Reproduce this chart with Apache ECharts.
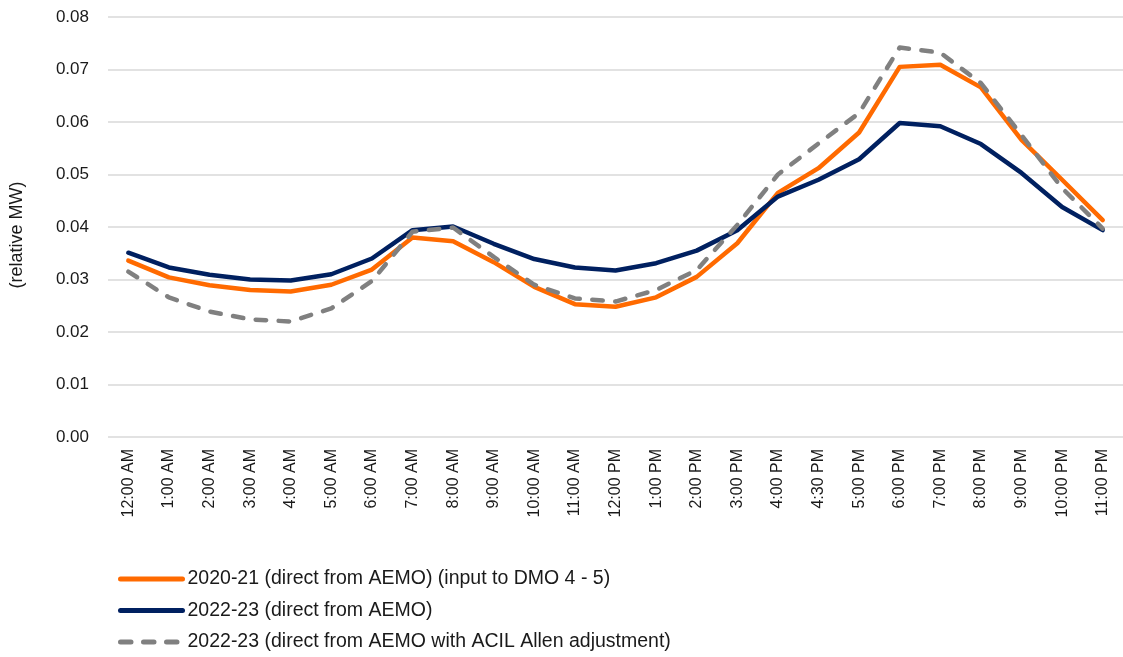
<!DOCTYPE html>
<html>
<head>
<meta charset="utf-8">
<style>
  html, body { margin: 0; padding: 0; background: #ffffff; }
  #chart { width: 1123px; height: 657px; }
</style>
<script src="https://cdn.jsdelivr.net/npm/echarts@6/dist/echarts.min.js"></script>
</head>
<body>
<div id="chart"></div>
<script>
// Time-of-day categories (x axis)
const hours = [
  '12:00 AM', '1:00 AM', '2:00 AM', '3:00 AM', '4:00 AM', '5:00 AM', '6:00 AM',
  '7:00 AM', '8:00 AM', '9:00 AM', '10:00 AM', '11:00 AM', '12:00 PM',
  '1:00 PM', '2:00 PM', '3:00 PM', '4:00 PM', '4:30 PM', '5:00 PM', '6:00 PM',
  '7:00 PM', '8:00 PM', '9:00 PM', '10:00 PM', '11:00 PM'
];

// Relative load profile, 2020-21 (direct from AEMO)
const profile2021 = [
  0.0336, 0.0304, 0.0289, 0.0280, 0.0277, 0.0290, 0.0319, 0.0380, 0.0373,
  0.0333, 0.0286, 0.0253, 0.0248, 0.0266, 0.0305, 0.0369, 0.0465, 0.0512,
  0.0580, 0.0705, 0.0709, 0.0666, 0.0566, 0.0490, 0.0413
];

// Relative load profile, 2022-23 (direct from AEMO)
const profile2223 = [
  0.0351, 0.0323, 0.0309, 0.0300, 0.0298, 0.0310, 0.0340, 0.0394, 0.0401,
  0.0368, 0.0339, 0.0323, 0.0317, 0.0331, 0.0355, 0.0394, 0.0458, 0.0490,
  0.0529, 0.0598, 0.0592, 0.0558, 0.0503, 0.0438, 0.0394
];

// Relative load profile, 2022-23 with ACIL Allen adjustment
const profileAdjusted = [
  0.0315, 0.0266, 0.0239, 0.0224, 0.0220, 0.0245, 0.0297, 0.0391, 0.0399,
  0.0343, 0.0290, 0.0264, 0.0258, 0.0280, 0.0318, 0.0404, 0.0500, 0.0559,
  0.0617, 0.0742, 0.0732, 0.0674, 0.0575, 0.0474, 0.0397
];

const seriesNames = [
  '2020-21 (direct from AEMO) (input to DMO 4 - 5)',
  '2022-23 (direct from AEMO)',
  '2022-23 (direct from AEMO with ACIL Allen adjustment)'
];

const font = 'Liberation Sans, Arial, sans-serif';
const lineWidth = 4.5;

const chart = echarts.init(document.getElementById('chart'), null, { renderer: 'canvas' });

chart.setOption({
  animation: false,
  backgroundColor: '#ffffff',
  grid: { left: 108, right: 0, top: 17, bottom: 220, containLabel: false },
  legend: {
    orient: 'vertical',
    left: 113,
    top: 564,
    itemWidth: 62,
    itemHeight: 19,
    itemGap: 11.5,
    // line-only legend markers (no symbol dot)
    itemStyle: { opacity: 0 },
    lineStyle: { width: 5, cap: 'round' },
    textStyle: { fontFamily: font, fontSize: 19.5, color: '#1a1a1a' },
    data: seriesNames
  },
  xAxis: {
    type: 'category',
    data: hours,
    boundaryGap: true,
    axisLine: { show: false },
    axisTick: { show: false },
    axisLabel: {
      rotate: 90,
      interval: 0,
      margin: 12,
      fontFamily: font,
      fontSize: 16,
      color: '#1a1a1a'
    }
  },
  yAxis: {
    type: 'value',
    min: 0,
    max: 0.08,
    interval: 0.01,
    name: '(relative MW)',
    nameLocation: 'middle',
    nameGap: 82,
    nameTextStyle: { fontFamily: font, fontSize: 18, color: '#1a1a1a', padding: [0, 16, 0, 0] },
    axisLine: { show: false },
    axisTick: { show: false },
    axisLabel: {
      margin: 19,
      fontFamily: font,
      fontSize: 17,
      color: '#1a1a1a',
      formatter: v => v.toFixed(2)
    },
    splitLine: { lineStyle: { color: '#d9d9d9', width: 1.5 } }
  },
  series: [
    {
      name: seriesNames[0],
      type: 'line',
      data: profile2021,
      symbol: 'none',
      color: '#ff6a00',
      lineStyle: { width: lineWidth, color: '#ff6a00', cap: 'round', join: 'round' }
    },
    {
      name: seriesNames[1],
      type: 'line',
      data: profile2223,
      symbol: 'none',
      color: '#002060',
      lineStyle: { width: lineWidth, color: '#002060', cap: 'round', join: 'round' }
    },
    {
      name: seriesNames[2],
      type: 'line',
      data: profileAdjusted,
      symbol: 'none',
      color: '#808080',
      lineStyle: { width: lineWidth, color: '#808080', type: [10.5, 12.5], cap: 'round', join: 'round' }
    }
  ]
});
</script>
</body>
</html>
